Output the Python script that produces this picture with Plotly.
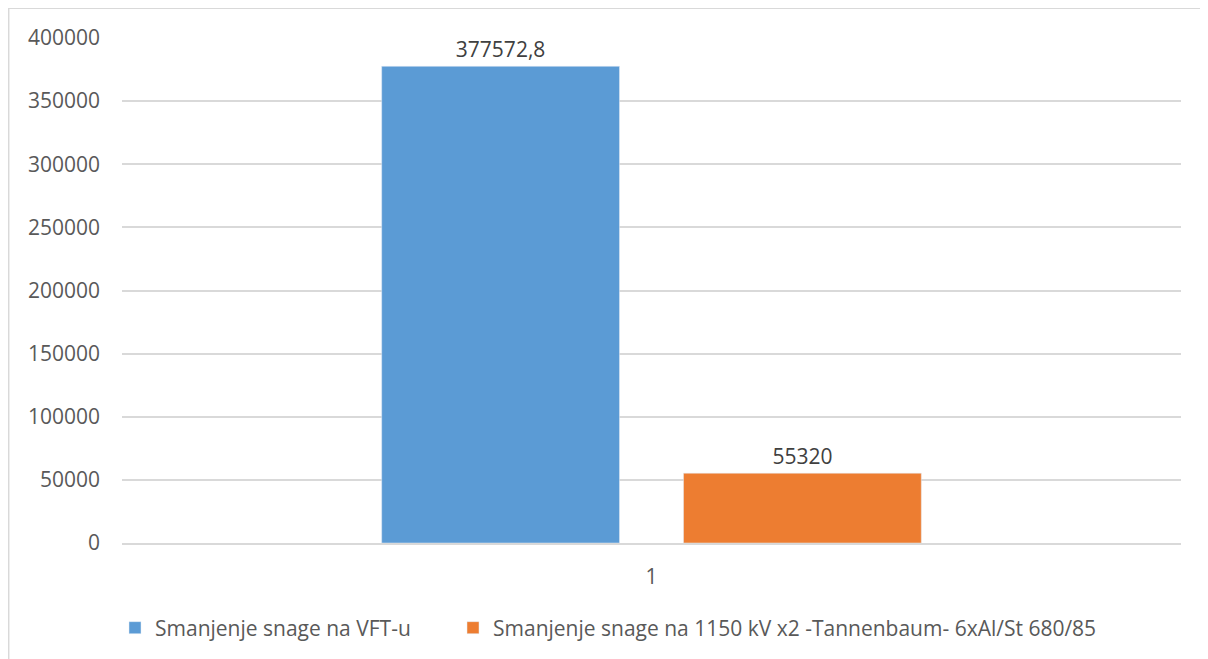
import plotly.graph_objects as go

categories = ["1"]
vft_values = [377572.8]
line_values = [55320]
vft_labels = ["377572,8"]
line_labels = ["55320"]
series_names = [
    "Smanjenje snage na VFT-u",
    "Smanjenje snage na 1150 kV x2 -Tannenbaum- 6xAl/St 680/85",
]
y_ticks = [0, 50000, 100000, 150000, 200000, 250000, 300000, 350000, 400000]

FONT = "Open Sans"
fig = go.Figure()
fig.add_trace(go.Bar(
    x=categories, y=vft_values, name=series_names[0],
    marker_color="#5b9bd5", text=vft_labels, textposition="outside",
    textfont=dict(size=21, color="#404040"), cliponaxis=False,
    legend="legend"
))
fig.add_trace(go.Bar(
    x=categories, y=line_values, name=series_names[1],
    marker_color="#ed7d31", text=line_labels, textposition="outside",
    textfont=dict(size=21, color="#404040"), cliponaxis=False,
    legend="legend2"
))

# the page body has an 8px margin, so the figure is drawn 8px in
W, H = 1200, 651
L, T, PW, PH = 114, 30, 1059, 505
fig.add_shape(
    type="rect", xref="paper", yref="paper",
    x0=(0.7 - L) / PW, x1=(1215 - L) / PW,
    y0=(T + PH - 700) / PH, y1=(T + PH - 0.3) / PH,
    line=dict(color="#d9d9d9", width=1.5), layer="below"
)

legend_style = dict(
    orientation="h", xanchor="left", y=(T + PH - 620) / PH, yanchor="middle",
    itemwidth=30, font=dict(size=21, color="#595959"), bgcolor="rgba(0,0,0,0)"
)
fig.update_layout(
    width=W, height=H,
    margin=dict(l=L, r=W - L - PW, t=T, b=H - T - PH, autoexpand=False),
    paper_bgcolor="white", plot_bgcolor="white",
    font=dict(family=FONT, size=21, color="#595959"),
    barmode="group", bargap=0.43, bargroupgap=0.212,
    showlegend=True,
    legend=dict(x=(107 - L) / PW, **legend_style),
    legend2=dict(x=(445 - L) / PW, **legend_style),
)
fig.update_xaxes(
    showgrid=False, showline=True, linecolor="#d9d9d9", linewidth=1.5,
    ticks="", ticklabelstandoff=14
)
fig.update_yaxes(
    range=[0, 400000], tickvals=y_ticks, showgrid=True, gridcolor="#d9d9d9",
    gridwidth=1.5, zeroline=False, showline=False, ticks="",
    ticklabelstandoff=21, tickformat="d"
)

fig.write_html("out.html")
